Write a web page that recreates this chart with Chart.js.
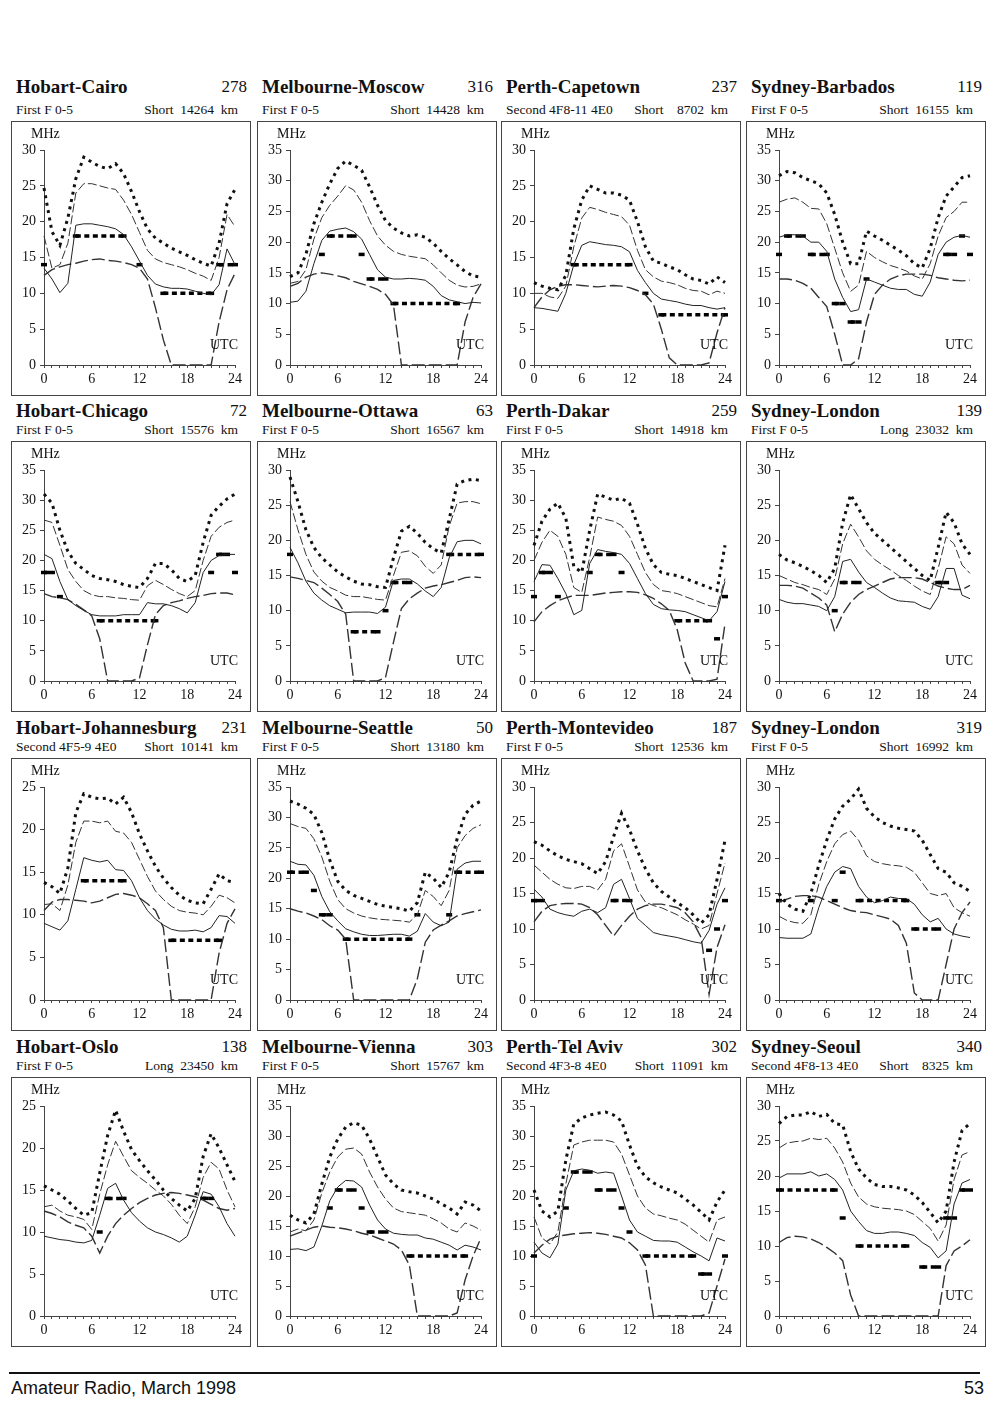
<!DOCTYPE html>
<html>
<head>
<meta charset="utf-8">
<script src="https://cdn.jsdelivr.net/npm/chart.js@4.4.0/dist/chart.umd.min.js"></script>
<style>
body { margin: 0; width: 1000px; height: 1402px; position: relative; overflow: hidden; background: #fff; color: #111; font-family: "Liberation Serif", "Times New Roman", serif; }
.title, .sub { position: absolute; display: flex; justify-content: space-between; white-space: pre; }
.title { font-size: 19px; line-height: 20px; }
.title b { font-weight: bold; }
.title span { font-size: 17px; }
.sub { font-size: 13.5px; line-height: 14px; }
.box { position: absolute; border: 1px solid #444; }
.box canvas { display: block; }
.foot { position: absolute; font-family: "Liberation Sans Narrow", "Liberation Sans", Arial, sans-serif; font-size: 18px; line-height: 20px; }
</style>
</head>
<body>
<div style="position:absolute;left:9px;top:1372px;width:971px;height:2px;background:#111"></div>
<div class="foot" style="left:11px;top:1378px">Amateur Radio, March 1998</div>
<div class="foot" style="right:16px;top:1378px">53</div>
<script>
const hours = [0,1,2,3,4,5,6,7,8,9,10,11,12,13,14,15,16,17,18,19,20,21,22,23,24];

const routes = ['Hobart-Cairo', 'Melbourne-Moscow', 'Perth-Capetown', 'Sydney-Barbados',
  'Hobart-Chicago', 'Melbourne-Ottawa', 'Perth-Dakar', 'Sydney-London',
  'Hobart-Johannesburg', 'Melbourne-Seattle', 'Perth-Montevideo', 'Sydney-London',
  'Hobart-Oslo', 'Melbourne-Vienna', 'Perth-Tel Aviv', 'Sydney-Seoul'];
const routeNumbers = ['278', '316', '237', '119', '72', '63', '259', '139',
  '231', '50', '187', '319', '138', '303', '302', '340'];
const modes = ['First F 0-5', 'First F 0-5', 'Second 4F8-11 4E0', 'First F 0-5',
  'First F 0-5', 'First F 0-5', 'First F 0-5', 'First F 0-5',
  'Second 4F5-9 4E0', 'First F 0-5', 'First F 0-5', 'First F 0-5',
  'First F 0-5', 'First F 0-5', 'Second 4F3-8 4E0', 'Second 4F8-13 4E0'];
const paths = ['Short  14264  km', 'Short  14428  km', 'Short    8702  km', 'Short  16155  km',
  'Short  15576  km', 'Short  16567  km', 'Short  14918  km', 'Long  23032  km',
  'Short  10141  km', 'Short  13180  km', 'Short  12536  km', 'Short  16992  km',
  'Long  23450  km', 'Short  15767  km', 'Short  11091  km', 'Short    8325  km'];
const yMax = [30, 35, 30, 35, 35, 30, 35, 30, 25, 35, 30, 30, 25, 35, 35, 30];

// heavy dotted curve (top)
const upperDotted = [
  [24.7,18.6,16.7,20.5,26,29,28.3,27.7,27.4,28.1,26.7,24.2,21.4,19,17.7,17,16.3,15.8,15.3,14.7,14.2,13.8,17,22.5,24.5],
  [14.4,15,18,23,26.5,29.5,32,33.2,32.5,31.7,29,26,23.5,22.3,21.5,21,21.2,20.8,19.8,18.5,17.3,16.3,15.2,14.5,14.3],
  [11.5,11,10.7,10.5,12.5,19,23,25,24.5,24,24,23.7,23,20,16.5,14.5,14.2,13.7,13.3,12.6,12,11.8,11.3,12.3,11.5],
  [30.8,31.5,31.3,30.5,30,29.5,28,24.5,20,16.5,16.5,21.8,21,20.3,19.5,18.7,17.8,16.5,15.8,19,24,27.5,29,30.5,30.8],
  [31,29.5,25,21.5,19.5,18.5,17.5,17,16.8,16.5,16,15.7,15.5,17,19.5,19.5,18.5,17,16.5,17.5,23,27.5,29,30.2,31],
  [29,25.5,21.5,19,17.5,16.5,15.5,14.8,14.2,13.8,13.7,13.4,13.3,17.5,21.3,22,21,19.7,18.8,18.2,23,28,28.5,28.7,28.5],
  [22.5,26.5,28.5,29.5,27,19,18,25,31,30.5,30,30.3,29.5,26,22,19.3,18,17.7,17.5,17,16.5,16,15.5,15,22.5],
  [18,17.2,16.8,16.3,15.7,15,14,16,22.5,26.5,24.5,22.5,21,20,19,18,17,16,15,14.3,19,24,22.5,19.5,18],
  [13.8,13.3,12.5,15.5,22,24.2,23.8,23.6,23.7,23,23.8,22,19.5,17.5,15.7,14.3,13.2,12.3,11.7,11.4,11.3,13,14.8,14,13.8],
  [32.7,32.2,31.5,30.5,27.5,23,19.5,18,17.2,16.7,16.2,15.7,15.4,15.2,15,14.6,16,21,20,18.5,21,26.5,30.5,32,32.7],
  [22.3,21.8,21,20.3,19.8,19.5,19.2,18.5,17.8,19.5,23,26.3,24,21,18.5,16.5,15.3,14.5,13.7,13,12,10.8,12,17,22.5],
  [15,13.5,12.8,12.5,15,19,22.5,25.5,27.3,28.3,29.7,27,25.8,25,24.5,24.2,24,23.8,22.5,20.5,18.5,18,16.5,16,15.3],
  [15.5,15,14.5,13.7,12.8,12,12.3,17,21.5,24.5,22,19.8,18.5,17.3,16.2,15,14,13.2,12.5,14,19,21.7,20,18,16],
  [16.8,16,15.5,17,22,26.5,29.5,31.5,32.2,31.8,29.5,26.5,23.5,22,21,20.7,20.5,20,19.5,18.7,18,17,19,18.5,17.5],
  [21,17.5,16.5,17.5,26,32,33,33.5,33.8,34,33.5,32.5,28.5,25,23.2,22.2,21.5,21,20.5,19.5,18.5,17.3,16,19,21],
  [27.5,28.5,28.7,28.7,29.2,28.5,28.8,27.5,27.3,23.5,21,19.7,18.8,18.5,18.5,18.3,18,17.3,16.2,14.8,13.3,15,22,26.5,27.5]
];

// thin dashed curve
const upperDashed = [
  [18,13.5,14,17,24,25.3,25.3,25,24.7,24.5,23,21,18.5,16,14.8,14.3,14,13.7,13.3,12.8,12.4,11.8,15,21,19.3],
  [13.3,13.6,15.5,20.5,24,26,27.5,29.2,28.5,26.5,23.5,21,19.5,18.5,18,17.7,17.5,17.3,16.3,15,13.8,13,12.7,12.8,13.2],
  [10,10,9.5,9.3,11,16.5,20.5,22,21.7,21.3,21,20.7,19.5,16,13.3,12.3,11.7,11.5,11.2,10.7,10.4,10.3,9.8,10.3,10],
  [26.5,27,27.2,26.5,25.5,25.4,23,19,15,12,13,18.5,17.5,16.8,16.2,15.8,15.3,14.5,14,16.5,21,24,25,26.5,26.5],
  [26.7,26.3,22.5,18.5,16.5,15,14.3,14,14,13.8,13.7,13.5,13.4,15.8,16.7,16,15.2,14.5,14,15,20,24,25.5,26.3,26.7],
  [25.5,21.5,18,15.5,14.2,13.3,12.8,12.2,12,12,11.8,11.6,11.5,15,18.3,18.5,17.8,16.3,15.3,16.5,22,25.3,25.5,25.5,25.2],
  [20,23,25,24,21,15.5,14.7,20.5,27.2,26.8,26.5,25.8,24,21,18,16,15,14.8,14.5,14,13.5,13,12.5,12.3,17],
  [15,14.5,14,13.7,13.3,13,12.3,14.5,19.5,22.3,20.5,18.5,17.3,16.5,15.8,15,14.3,13.5,12.8,12.3,16,20.5,19.5,16.5,15.3],
  [11.2,11.3,10.5,13.5,18.5,21,21,20.8,21,19.8,19.6,18.5,16.5,14.5,12.8,11.8,11,10.5,10.3,10.2,10,11,12.3,12,11.4],
  [29,28.5,28.2,26.5,23.5,19.5,16.5,15,14.3,13.8,13.5,13.3,13.2,13.1,13,12.8,14,18,17,15.5,18,25,27,28.2,28.8],
  [19,18,17,16.3,15.8,15.7,16,16,15.5,17,21,22,18.8,15.5,13.8,13.3,13,12.5,12,11.3,10.7,10,10.5,15,19.3],
  [11.8,11.2,10.9,10.8,12,16.3,19.5,22,23.3,23.8,22.5,20.3,19.5,19.2,19,18.9,18.7,18,16.5,15,14.7,15,13,12.3,11.8],
  [13,13.2,12.5,12,11.8,11.5,10.3,14.5,18,20.8,19,17.3,16.5,15.8,15,14.3,13.3,12,11,13,16.5,18.3,17.5,15,13],
  [14,14.5,14.2,16,20.5,24,26.5,27.8,28,27,24,21.5,19.5,18,17.4,17.2,17,16.8,16.2,15.5,14.5,14,15.5,15,14.3],
  [16.5,13,12,14,22,28.5,29,29.3,29.3,29.3,29,27,23.5,20,18,17,16.7,16.3,16,15.3,14.3,13.3,12.3,16,16.5],
  [24,24.7,24.9,25,25.4,25.2,25.4,24,22,19,17,16,15.6,15.4,15.3,15.2,15,14.5,13.5,12.5,10.7,13,19.5,23,23.5]
];

// thin solid curve
const middleSolid = [
  [13.5,12,10.1,11.4,19.5,19.7,19.7,19.5,19.3,19,18.2,16.5,14.5,12.5,11.3,10.9,10.7,10.7,10.6,10.3,10,9.8,11.2,16.2,14],
  [10.2,10.4,12,16.5,20.3,21.8,22.1,22.3,21.7,20.5,18,15.5,14.3,14,14,14.1,14,13.8,12.8,11.3,10.6,10.3,10,10.2,10.1],
  [8,7.9,7.7,7.5,10,14,16.7,17.2,17,16.8,16.7,16.5,15.8,13.2,11.5,10,9.2,9,8.8,8.5,8.3,8.3,8,7.8,8],
  [20.8,21.2,21.2,21,20,20,18.5,14,11,8.7,9,14,13.5,13,12.5,12.3,12.3,11.5,11.2,13.5,18,20,20.8,21.1,20.8],
  [21,20.3,16.5,13.5,12.5,11.7,11,10.8,10.8,10.8,11,11,11,13,12.8,12.8,12.5,12,11.3,13,18,20,20.8,21,21],
  [19,16.8,14.2,12.5,11.5,10.7,10.2,9.7,9.8,9.8,9.8,9.6,10.5,14.3,14.5,14.5,13.8,12.8,12,13.3,17.5,19.8,20,20,19.5],
  [16.5,19.3,19.2,17,14.5,11,11.7,19.5,21.8,21.5,21.3,21,19.5,17,14.5,12.7,12,11.8,11.7,11.5,11,10.5,10,11.5,16.5],
  [11.6,11.2,11,11,10.8,10.6,10,12,17,17.3,15.5,14,13.3,12.5,11.8,11.4,11.3,11.2,10.6,10.2,12,16,16,12.2,11.7],
  [9,8.6,8.2,9.3,13,16.7,16.4,16.2,16.4,15.3,15.2,14,12,10.5,9.5,8.8,8.3,8.1,8.1,8.2,8,8.5,9.9,9.8,9],
  [22.8,22.3,22.2,20.5,17,14.5,13,11.7,11.2,10.8,10.6,10.6,10.7,10.8,10.8,10.5,11.3,14.2,12.8,12.2,12.8,21.5,22.5,22.8,22.8],
  [15.6,14.5,12.8,12.3,12,11.8,12.5,12.8,12.3,13,16.3,17,14.3,11.5,10.5,9.5,9.2,9,8.8,8.5,8.2,8,9.8,13.5,15.8],
  [8.8,8.7,8.7,8.7,9.3,13,16,18,18.8,18.5,16,14.5,13.7,14,14.5,14.3,14.3,13.5,12,11,11.5,10,9.3,9,8.8],
  [9.5,9.3,9.1,9,8.8,8.7,9,12,15.2,15.8,13.8,12.3,11.3,10.5,10,9.7,9.3,8.8,9.5,12,14.8,14.5,13,11,9.5],
  [11.1,11.2,10.9,11.5,15,19.2,21.5,22.6,22.5,21.5,18.5,16,14.5,13.8,13.6,13.5,13.5,13,12.8,12.3,11.8,11,11.8,11.5,11],
  [12.3,10.5,9.7,12,21,24.2,24.5,24.3,23.8,24,23.8,20,16,14,13.3,12.6,12.5,12.5,12.3,11.5,10.7,10,9.2,13,12.5],
  [19.7,20.3,20.3,20.3,20.6,20,20.3,19.5,18,15,13.5,12.2,11.8,11.8,12,12,11.8,11.5,10.5,9.8,8.3,9.3,16,19,19.5]
];

// long-dash curve (bottom)
const lowerDashed = [
  [12.5,13.3,13.7,14,14.2,14.5,14.7,14.8,14.6,14.5,14.3,14,13.5,12,8,3.5,0,0,0,0,0,0,6,10.5,12.8],
  [12.8,13.3,14.3,14.8,15,14.8,14.5,14.2,13.6,13.2,12.8,12.3,11.5,9.8,0,0,0,0,0,0,0,0,7,11,13.2],
  [8,9.5,10.5,11,11.2,11.2,11.1,11,10.9,11,11.1,11,10.8,10.4,9.8,8.5,5,1,0,0,0,0,0.3,4.5,8],
  [14,14,13.8,13.3,12.5,11,9.5,5,0,0,1,7,11.5,13,14,14.5,14.8,14.8,14.8,14.6,14.2,14,13.8,13.7,13.8],
  [14.5,14,13.8,13.5,12.7,11.8,10.8,7,0,0,0,0,0.5,6,11,12.5,13,13.3,13.7,14,14.2,14.5,14.6,14.6,14.3],
  [14.8,14.6,14.3,14,13.2,12.3,11.3,9.5,0,0,0,0,0.5,5.5,10.3,11.7,12.5,13.2,13.5,13.7,14,14.3,14.7,14.8,14.7],
  [9.8,11.5,12.5,13.3,13.8,14.2,14.2,14.2,14.4,14.6,14.7,14.8,14.8,14.7,14.3,13.7,12.8,11.7,8.5,3,0,0,0,0.3,9.5],
  [13.6,13.6,13.5,13.2,12.5,11.8,10.8,7,9.5,11.2,12.3,13,13.5,14,14.5,14.7,14.7,14.7,14.5,14,13.5,13.2,13,13,13.6],
  [10.5,11.5,11.8,11.8,11.7,11.6,11.4,11.6,12,12.4,12.5,12.3,12,11.3,10.5,8.5,0,0,0,0,0,0,5.5,9,10.7],
  [15,14.6,14.3,13.8,13.2,12.2,11.5,10,0,0,0,0,0,0,0,0,3.5,9.5,11.5,12.3,13,13.8,14.2,14.5,14.8],
  [11,12.5,13.3,13.5,13.6,13.6,13.5,13,12,10.5,9,10.5,11.8,12.8,13.3,13.5,13.5,13.3,13,12.3,11,8.8,0.8,7.4,10.6],
  [13.8,14.2,14.6,14.7,14.7,14.5,14,13.5,13,12.6,12.4,12.3,12,11.7,11.4,10.5,8,1,0,0,0,5,10,12.3,13.8],
  [12.5,12.2,11.8,11.2,10.8,10.5,9.5,7.5,9.5,11,12,12.8,13.5,14,14.4,14.6,14.7,14.6,14.4,14.2,13.8,13.3,12.8,12.6,12.8],
  [13.3,13.8,14.3,14.8,15,14.8,14.7,14.5,14.2,13.8,13.5,13,12.5,12,11,8.5,0,0,0,0,0,0.5,6,10,13],
  [10.5,11.8,12.8,13.3,13.5,13.7,13.8,13.9,13.8,13.6,13.3,13,12.2,11,8.5,0,0,0,0,0,0,0,0.5,5,9.5],
  [10.5,11.2,11.4,11.3,11,10.5,9.8,9,7.9,3,0,0,0,0,0,0,0,0,0,0,0,7.2,9.3,10,10.9]
];

// heavy short-dash band line
const bestBand = [
  [14,null,null,null,18,18,18,18,18,18,18,null,14,null,null,10,10,10,10,10,10,10,14,14,14],
  [null,null,null,null,18,21,21,21,21,18,14,14,14,10,10,10,10,10,10,10,10,10,null,null,null],
  [null,null,null,null,null,14,14,14,14,14,14,14,14,null,10,null,7,7,7,7,7,7,7,7,7],
  [18,21,21,21,18,18,18,10,10,7,7,14,null,null,null,null,null,null,null,null,null,18,18,21,18],
  [18,18,14,null,null,null,null,10,10,10,10,10,10,10,10,null,null,null,null,null,null,18,21,21,18],
  [18,null,null,null,null,null,null,null,7,7,7,7,10,14,14,14,null,null,null,null,18,18,18,18,18],
  [14,18,18,14,null,null,null,18,21,21,21,18,null,null,null,null,null,null,10,10,10,10,10,7,14],
  [null,null,null,null,null,null,null,10,14,14,14,null,null,null,null,null,null,null,null,null,14,14,null,null,null],
  [null,null,null,null,null,14,14,14,14,14,14,null,null,null,null,null,7,7,7,7,7,7,7,null,null],
  [21,21,21,18,14,14,null,10,10,10,10,10,10,10,10,10,14,null,null,null,14,21,21,21,21],
  [14,14,null,null,null,null,null,null,null,null,14,14,14,null,null,null,null,null,null,null,null,null,7,10,14],
  [14,null,null,null,14,null,null,14,18,null,14,14,14,14,14,14,14,10,10,10,10,null,null,null,null],
  [null,null,null,null,null,null,null,10,14,14,14,null,null,null,null,null,null,null,null,null,14,14,null,null,null],
  [null,null,null,null,null,18,21,21,21,18,14,14,14,null,null,10,10,10,10,10,10,10,10,null,null],
  [10,null,null,null,18,24,24,24,21,21,21,18,14,null,10,10,10,10,10,10,10,7,7,null,10],
  [18,18,18,18,18,18,18,18,14,null,10,10,10,10,10,10,10,null,7,7,7,14,14,18,18]
];

// page layout
const colLeft = [11, 257, 501, 746];
const boxWidth = 240;
const rowTop = [121, 441, 758, 1077];
const rowHeight = [275, 271, 273, 270];
const titleMid = [87, 411, 728, 1047];
const subMid = [110, 430, 747, 1066];

const serif = '"Liberation Serif", "Times New Roman", serif';

const axisNotes = {
  id: 'axisNotes',
  afterDraw(chart) {
    const ctx = chart.ctx;
    const area = chart.chartArea;
    ctx.save();
    ctx.fillStyle = '#111';
    ctx.textBaseline = 'middle';
    ctx.font = '14px ' + serif;
    ctx.textAlign = 'left';
    ctx.fillText('MHz', 19, 12);
    ctx.textAlign = 'right';
    ctx.fillText('UTC', area.right + 3, area.bottom - 20);
    ctx.restore();
  }
};

// a band mark gets its own short dash only where the run of equal values starts or ends
let bandEdge = function (c) {
  let d = c.dataset.data;
  let v = d[c.dataIndex];
  if (v === null || v === undefined) return 0;
  let prev = c.dataIndex > 0 ? d[c.dataIndex - 1] : null;
  let next = c.dataIndex < d.length - 1 ? d[c.dataIndex + 1] : null;
  return (prev === v && next === v) ? 0 : 3;
};

let drawRoute = function (i) {
  let col = i % 4;
  let row = Math.floor(i / 4);
  let left = colLeft[col];

  let title = document.createElement('div');
  title.className = 'title';
  title.style.left = (left + 5) + 'px';
  title.style.width = (boxWidth - 9) + 'px';
  title.style.top = (titleMid[row] - 10) + 'px';
  title.innerHTML = `<b>${routes[i]}</b><span>${routeNumbers[i]}</span>`;
  document.body.appendChild(title);

  let sub = document.createElement('div');
  sub.className = 'sub';
  sub.style.left = (left + 5) + 'px';
  sub.style.width = (boxWidth - 18) + 'px';
  sub.style.top = (subMid[row] - 7) + 'px';
  sub.innerHTML = `<span>${modes[i]}</span><span>${paths[i]}</span>`;
  document.body.appendChild(sub);

  let box = document.createElement('div');
  box.className = 'box';
  box.style.left = left + 'px';
  box.style.top = rowTop[row] + 'px';
  let canvas = document.createElement('canvas');
  canvas.width = boxWidth - 2;
  canvas.height = rowHeight[row] - 2;
  box.appendChild(canvas);
  document.body.appendChild(box);

  let tickFont = { family: serif, size: 14 };

  new Chart(canvas.getContext('2d'), {
    type: 'line',
    data: {
      labels: hours,
      datasets: [
        { data: upperDotted[i], borderColor: '#111', borderWidth: 3, borderDash: [3, 4.5] },
        { data: upperDashed[i], borderColor: '#333', borderWidth: 1, borderDash: [9, 3] },
        { data: middleSolid[i], borderColor: '#222', borderWidth: 1 },
        { data: lowerDashed[i], borderColor: '#333', borderWidth: 1.4, borderDash: [13, 4] },
        {
          data: bestBand[i], borderColor: '#000', borderWidth: 3.5, borderDash: [5, 3.5],
          pointStyle: 'line', pointRadius: bandEdge, pointBorderWidth: 3.5, pointBorderColor: '#000',
          spanGaps: false,
          segment: {
            borderColor: c => c.p0.parsed.y === c.p1.parsed.y ? '#000' : 'rgba(0,0,0,0)'
          }
        }
      ]
    },
    options: {
      responsive: false,
      animation: false,
      events: [],
      clip: false,
      layout: { padding: { top: 28, right: 15, left: 0, bottom: 0 } },
      elements: {
        line: { tension: 0, fill: false },
        point: { radius: 0, hoverRadius: 0 }
      },
      plugins: { legend: { display: false }, tooltip: { enabled: false } },
      scales: {
        x: {
          type: 'linear', min: 0, max: 24,
          afterFit: s => { s.height = 30; },
          border: { color: '#444' },
          grid: { drawOnChartArea: false, tickLength: 3, color: '#444' },
          ticks: {
            stepSize: 1, autoSkip: false, maxRotation: 0, padding: 3,
            color: '#111', font: tickFont,
            callback: v => v % 6 === 0 ? v : ''
          }
        },
        y: {
          min: 0, max: yMax[i],
          afterFit: s => { s.width = 32; },
          border: { color: '#444' },
          grid: { drawOnChartArea: false, tickLength: 4, color: '#444' },
          ticks: { stepSize: 5, padding: 4, color: '#111', font: tickFont }
        }
      }
    },
    plugins: [axisNotes]
  });
};

for (let i = 0; i < routes.length; i++) {
  drawRoute(i);
}
</script>
</body>
</html>
